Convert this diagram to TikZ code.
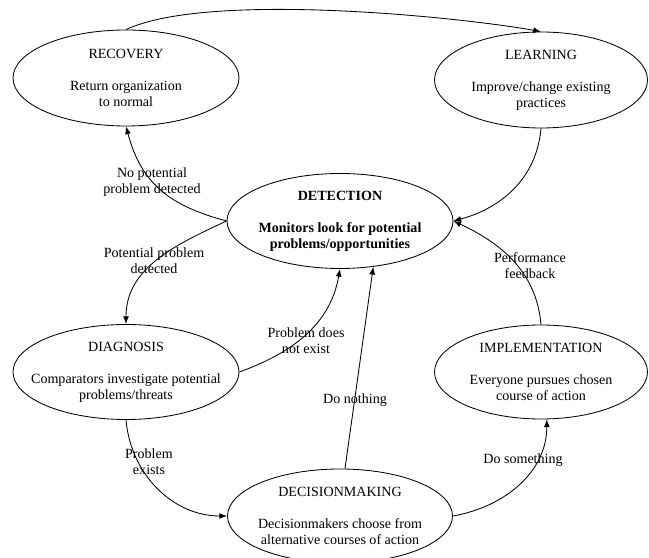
\documentclass[tikz,border=0pt]{standalone}
\usepackage{fontspec}
\setmainfont{Liberation Serif}
\usetikzlibrary{shapes.geometric, arrows.meta}
\tikzset{>={Latex[length=5.5pt, width=4.2pt]}}
\tikzset{
    phase/.style={ellipse, draw, line width=0.6pt, minimum width=5.65cm, minimum height=2.4cm, inner sep=0pt},
    phasetext/.style={align=center, font=\fontsize{10}{11.4}\selectfont},
    lbl/.style={align=center, font=\fontsize{10}{11.4}\selectfont, inner sep=0pt}
}

\begin{document}
\begin{tikzpicture}[line join = round]
    \useasboundingbox (0,0) rectangle (16.225,13.95);

    % the six phases
    \node[phase] (rec) at (3.15,12.0) {};
    \node[phase, minimum width=5.325cm] (lea) at (13.525,11.95) {};
    \node[phase, minimum height=2.375cm] (det) at (8.5,8.425) {};
    \node[phase, minimum height=2.375cm] (dia) at (3.15,4.65) {};
    \node[phase, minimum width=5.325cm, minimum height=2.35cm] (imp) at (13.525,4.65) {};
    \node[phase, minimum width=5.625cm, minimum height=2.35cm] (dec) at (8.5,1.05) {};

    \node[phasetext] (rec text) at (rec) {RECOVERY\\[11.4pt]Return organization\\to normal};
    \node[phasetext] (lea text) at (lea) {LEARNING\\[11.4pt]Improve/change existing\\practices};
    \node[phasetext, font=\fontsize{10}{11.4}\selectfont\bfseries] (det text) at (det) {DETECTION\\[11.4pt]Monitors look for potential\\problems/opportunities};
    \node[phasetext] (dia text) at (dia) {DIAGNOSIS\\[11.4pt]Comparators investigate potential\\problems/threats};
    \node[phasetext] (imp text) at (imp) {IMPLEMENTATION\\[11.4pt]Everyone pursues chosen\\course of action};
    \node[phasetext] (dec text) at (dec) {DECISIONMAKING\\[11.4pt]Decisionmakers choose from\\alternative courses of action};

    % connectors
    \draw[->, line width=0.6pt] (rec.north) to[out=25, in=170, looseness=0.55] (lea.north);
    \draw[->, line width=0.6pt] (det.west) to[out=165, in=-75, looseness=1.1] (rec.south);
    \draw[->, line width=0.6pt] (det.west) to[out=205, in=90] (dia.north);
    \draw[->, line width=0.6pt] (dia.east) to[out=20, in=-100] (det.south);
    \draw[->, line width=0.6pt] (dia.south) to[out=-85, in=180] (dec.west);
    \draw[->, line width=0.6pt] (dec.84) -- (det.-54);
    \draw[->, line width=0.6pt] (dec.east) to[out=10, in=-90] (imp.-83);
    \draw[->, line width=0.6pt] (imp.north) to[out=95, in=-25] (det.east);
    \draw[->, line width=0.6pt] (lea.south) to[out=-95, in=15] (det.east);

    % labels
    \node[lbl] (l none) at (3.8,9.4) {No potential\\problem detected};
    \node[lbl] (l pot) at (3.85,7.425) {Potential problem\\detected};
    \node[lbl] (l notex) at (7.65,5.425) {Problem does\\not exist};
    \node[lbl] (l exists) at (3.725,2.4) {Problem\\exists};
    \node[lbl] (l nothing) at (8.875,3.95) {Do nothing};
    \node[lbl] (l something) at (13.075,2.45) {Do something};
    \node[lbl] (l perf) at (13.25,7.3) {Performance\\feedback};

\end{tikzpicture}
\end{document}
